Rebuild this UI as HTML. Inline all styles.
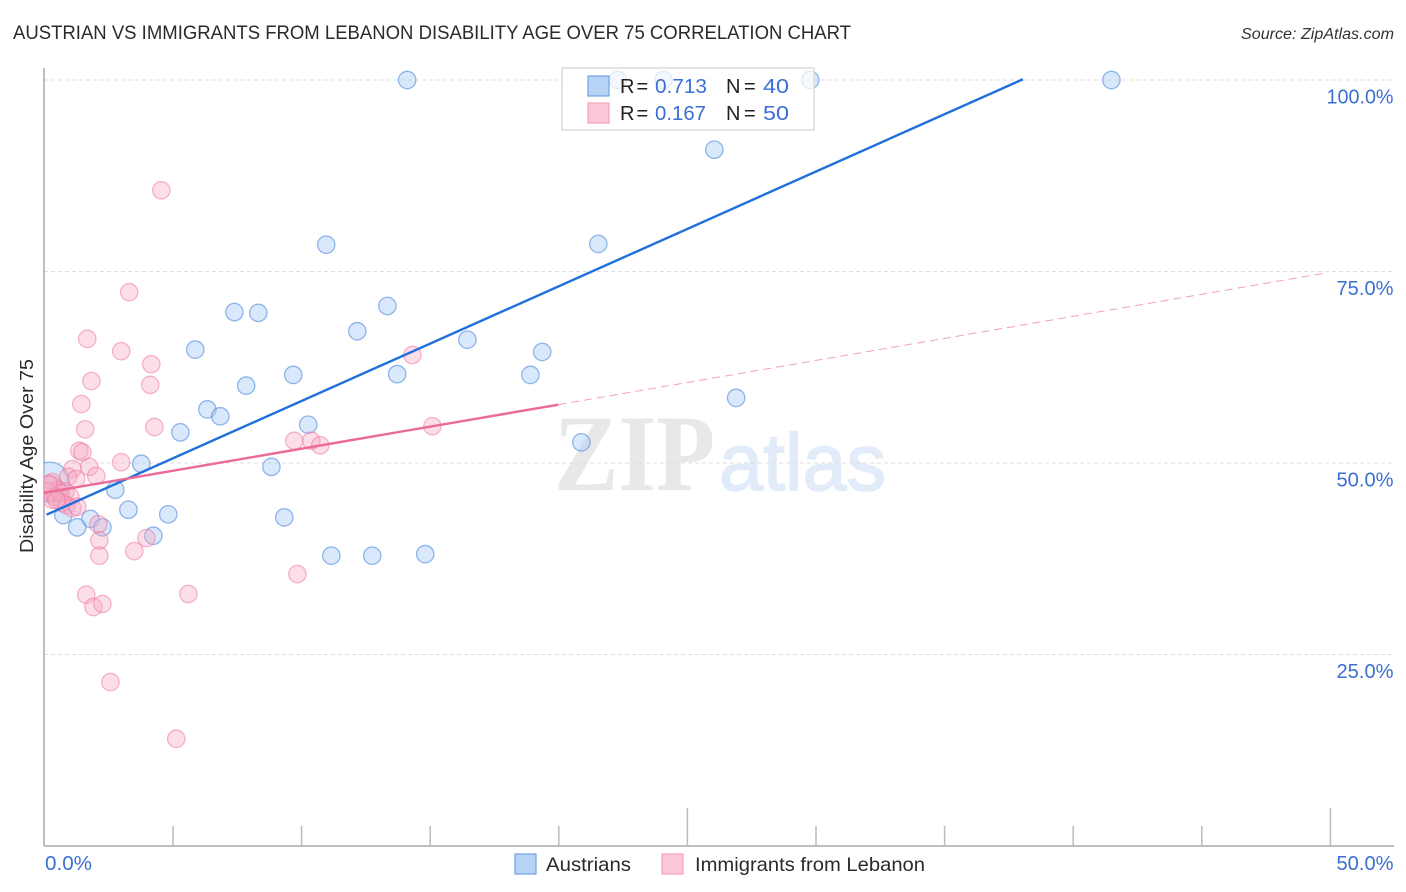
<!DOCTYPE html>
<html lang="en">
<head>
<meta charset="utf-8">
<title>Austrian vs Immigrants from Lebanon Disability Age Over 75 Correlation Chart</title>
<style>
html,body{margin:0;padding:0;background:#fff;width:1406px;height:892px;overflow:hidden}
svg{display:block}
text{font-family:"Liberation Sans",sans-serif}
</style>
</head>
<body>
<svg id="chart" xmlns="http://www.w3.org/2000/svg" width="1406" height="892" viewBox="0 0 1406 892">
  <defs>
    <clipPath id="plot-clip"><rect x="44" y="60" width="1350" height="786"/></clipPath>
  </defs>
  <text x="13" y="39" font-size="19" fill="#2a2a2a" textLength="838" lengthAdjust="spacingAndGlyphs">AUSTRIAN VS IMMIGRANTS FROM LEBANON DISABILITY AGE OVER 75 CORRELATION CHART</text>
  <text x="1241" y="39" font-size="15.5" font-style="italic" fill="#333" textLength="153" lengthAdjust="spacingAndGlyphs">Source: ZipAtlas.com</text>
  <g id="watermark">
    <text x="554" y="490" style="font-family:'Liberation Serif',serif" font-size="109" font-weight="bold" fill="#e8e8e8" textLength="161" lengthAdjust="spacingAndGlyphs">ZIP</text>
    <text x="719" y="490" font-size="81" fill="#e2ebf9" stroke="#e2ebf9" stroke-width="1.6" textLength="167" lengthAdjust="spacingAndGlyphs">atlas</text>
  </g>
  <g id="grid"></g>
  <g id="axes"></g>
  <g id="points" clip-path="url(#plot-clip)"></g>
  <g id="trends" clip-path="url(#plot-clip)"></g>
  <text transform="translate(33,553) rotate(-90)" font-size="18.5" fill="#2a2a2a" textLength="194" lengthAdjust="spacingAndGlyphs">Disability Age Over 75</text>
  <g>
    <rect x="562" y="68" width="252" height="62" fill="#fff" fill-opacity="0.72" stroke="#dcdcdc" stroke-width="1.5"/>
    <rect x="588" y="76" width="21" height="20" fill="#b7d3f6" stroke="#6fa3e6" stroke-width="1.2"/>
    <rect x="588" y="103" width="21" height="20" fill="#fcc8d9" stroke="#f2a0bc" stroke-width="1.2"/>
    <text y="93" font-size="20" fill="#222"><tspan x="620">R</tspan><tspan x="636.5">=</tspan></text>
    <text x="655" y="93" font-size="20.5" fill="#3b6fd4" textLength="52" lengthAdjust="spacingAndGlyphs">0.713</text>
    <text y="93" font-size="20" fill="#222"><tspan x="726">N</tspan><tspan x="744">=</tspan></text>
    <text x="763" y="93" font-size="20.5" fill="#3b6fd4" textLength="26" lengthAdjust="spacingAndGlyphs">40</text>
    <text y="120" font-size="20" fill="#222"><tspan x="620">R</tspan><tspan x="636.5">=</tspan></text>
    <text x="655" y="120" font-size="20.5" fill="#3b6fd4" textLength="51" lengthAdjust="spacingAndGlyphs">0.167</text>
    <text y="120" font-size="20" fill="#222"><tspan x="726">N</tspan><tspan x="744">=</tspan></text>
    <text x="763" y="120" font-size="20.5" fill="#3b6fd4" textLength="26" lengthAdjust="spacingAndGlyphs">50</text>
  </g>
  <g>
    <rect x="515" y="854" width="21" height="20" fill="#b7d3f6" stroke="#6fa3e6" stroke-width="1.2"/>
    <text x="546" y="871" font-size="19.5" fill="#2a2a2a" textLength="85" lengthAdjust="spacingAndGlyphs">Austrians</text>
    <rect x="662" y="854" width="21" height="20" fill="#fcc8d9" stroke="#f2a0bc" stroke-width="1.2"/>
    <text x="695" y="871" font-size="19.5" fill="#2a2a2a" textLength="230" lengthAdjust="spacingAndGlyphs">Immigrants from Lebanon</text>
  </g>
</svg>
<script>
const austrianX = [14.11,22.3,24.07,29.78,41.49,26.05,21.54,10.96,13.34,7.39,8.32,12.17,16.45,5.87,19.36,9.68,13.72,18.9,7.85,26.9,6.34,6.84,10.26,5.29,20.88,3.77,8.83,2.76,3.27,4.82,9.33,0.74,1.79,1.28,2.26,4.24,11.16,12.75,14.81,0.2];
const austrianY = [100,100,100,100,100,90.9,78.6,78.5,70.5,69.7,69.6,67.2,66.1,64.8,64.5,61.5,61.6,61.5,60.1,58.5,57,56.1,55,54,52.7,49.9,49.5,46.5,43.9,43.3,42.9,43.2,42.7,41.6,41.6,40.5,37.9,37.9,38.1,47.5];
const lebanonX = [4.55,3.3,1.67,2.99,4.16,14.31,1.83,4.12,1.44,1.59,4.28,15.09,9.72,10.38,10.73,1.36,1.48,2.99,1.75,1.09,2.02,0.93,1.24,0.31,0.23,0.54,0.82,0.12,0.43,1.01,0.31,0.7,0.86,1.09,1.28,0.62,0.16,0.47,2.1,2.14,3.97,2.14,3.5,9.84,1.63,5.6,1.91,2.26,2.57,5.13];
const lebanonY = [85.6,72.3,66.2,64.6,62.9,64.1,60.7,60.2,57.7,54.4,54.7,54.8,52.9,52.9,52.3,51.6,51.4,50.1,49.5,49.2,48.3,48.2,47.9,47.5,46.7,46.5,46.3,46.3,45.6,45.6,45.2,44.8,44.5,44.1,44.3,46.1,47.3,45.2,42,39.9,40.2,37.9,38.5,35.5,32.8,32.9,31.2,31.6,21.4,14];
const austrianLargeIndex = 39;
const lebanonLargeIndex = 24;
const austrianTrend = {intercept: 43.1, slope: 1.4976, xEnd: 38.06};
const lebanonTrend = {intercept: 46.1, slope: 0.576, xSolidEnd: 20, xEnd: 49.8};
const yTicks = [25,50,75,100];
const yTickLabels = ["25.0%","50.0%","75.0%","100.0%"];
const xTicks = [5,10,15,20,25,30,35,40,45,50];
const xMajorTicks = [25,50];
const xEdgeLabels = ["0.0%","50.0%"];

const NS = 'http://www.w3.org/2000/svg';
const xScale = v => 44 + v * 25.72;
const yScale = v => 846 - v * 7.66;
const labelWidth = s => s.length === 4 ? 47 : (s.length === 5 ? 57 : 67);
function make(parent, tag, attrs, txt){
  const el = document.createElementNS(NS, tag);
  for (const k in attrs) el.setAttribute(k, attrs[k]);
  if (txt !== undefined) el.textContent = txt;
  document.getElementById(parent).appendChild(el);
  return el;
}
yTicks.forEach((t, i) => {
  const g = make('grid','line',{x1:44,x2:1394,y1:yScale(t),y2:yScale(t),stroke:'#dedede','stroke-width':1,'stroke-dasharray':'4 3'});
  
  
  const w = labelWidth(yTickLabels[i]);
  const l = make('axes','text',{x:1393.5 - w,y:yScale(t)+23.5,'font-size':20,fill:'#3b6fd4',textLength:w,lengthAdjust:'spacingAndGlyphs'}, yTickLabels[i]);
  
  
});
const yAxis = make('axes','line',{x1:44,x2:44,y1:68,y2:846,stroke:'#aaa','stroke-width':1.5});


const xAxis = make('axes','line',{x1:44,x2:1394,y1:846,y2:846,stroke:'#aaa','stroke-width':1.5});


xTicks.forEach(t => {
  const top = xMajorTicks.includes(t) ? 808 : 826;
  const tk = make('axes','line',{x1:xScale(t)+0.4,x2:xScale(t)+0.4,y1:top,y2:846,stroke:'#bbb','stroke-width':1.5});
  
  
});
const xl0 = make('axes','text',{x:45,y:870,'font-size':20,fill:'#3b6fd4',textLength:labelWidth(xEdgeLabels[0]),lengthAdjust:'spacingAndGlyphs'}, xEdgeLabels[0]);


const xl1 = make('axes','text',{x:1393.5 - labelWidth(xEdgeLabels[1]),y:870,'font-size':20,fill:'#3b6fd4',textLength:labelWidth(xEdgeLabels[1]),lengthAdjust:'spacingAndGlyphs'}, xEdgeLabels[1]);



austrianX.forEach((x, i) => {
  const c = make('points','circle',{cx:xScale(x)+0.3,cy:yScale(austrianY[i]),r:i === austrianLargeIndex ? 20 : 8.7,fill:'#a9cbf5','fill-opacity':0.44,stroke:'#4a86dc','stroke-opacity':0.58,'stroke-width':1.3});
  
  
});
lebanonX.forEach((x, i) => {
  const c = make('points','circle',{cx:xScale(x)+0.3,cy:yScale(lebanonY[i]),r:i === lebanonLargeIndex ? 12 : 8.7,fill:'#f7a9c3','fill-opacity':0.38,stroke:'#ec779f','stroke-opacity':0.52,'stroke-width':1.3});
  
  
});
const tA = make('trends','line',{x1:xScale(0.1),y1:yScale(austrianTrend.intercept + austrianTrend.slope*0.1),x2:xScale(austrianTrend.xEnd),y2:yScale(austrianTrend.intercept + austrianTrend.slope*austrianTrend.xEnd),stroke:'#1f6fdc','stroke-width':2.4});


const tL = make('trends','line',{x1:xScale(0),y1:yScale(lebanonTrend.intercept),x2:xScale(lebanonTrend.xSolidEnd),y2:yScale(lebanonTrend.intercept + lebanonTrend.slope*lebanonTrend.xSolidEnd),stroke:'#ec6a9a','stroke-width':2.4});


const tD = make('trends','line',{x1:xScale(lebanonTrend.xSolidEnd),y1:yScale(lebanonTrend.intercept + lebanonTrend.slope*lebanonTrend.xSolidEnd),x2:xScale(lebanonTrend.xEnd),y2:yScale(lebanonTrend.intercept + lebanonTrend.slope*lebanonTrend.xEnd),stroke:'#ec6a9a','stroke-width':1,'stroke-dasharray':'8 5','stroke-opacity':0.65});


</script>
</body>
</html>
